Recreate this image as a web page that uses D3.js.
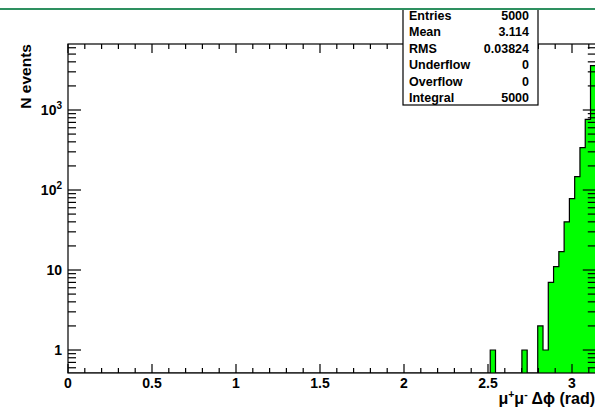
<!DOCTYPE html>
<html>
<head>
<meta charset="utf-8">
<script src="https://cdn.jsdelivr.net/npm/d3@7"></script>
<style>
html,body{margin:0;padding:0;background:#fff;}
svg{display:block;}
text{font-family:"Liberation Sans",Arial,Helvetica,sans-serif;font-weight:bold;fill:#000;}
</style>
</head>
<body>
<svg id="c" width="595" height="410"></svg>
<script>
// ---- data ----
const nBins = 100;
const xMin = 0;
const xMax = Math.PI;
const filledBins = [80, 86, 89, 90, 91, 92, 93, 94, 95, 96, 97, 98, 99];
const binCounts  = [1, 1, 2, 1, 7, 11, 17, 40, 78, 147, 338, 765, 3592];
const xTickLabels = ["0", "0.5", "1", "1.5", "2", "2.5", "3"];
const xTickValues = [0, 0.5, 1, 1.5, 2, 2.5, 3];
const yTickValues = [1, 10, 100, 1000];
const yTickBase = ["1", "10", "10", "10"];
const yTickSup  = ["", "", "2", "3"];
const statLabels = ["Entries", "Mean", "RMS", "Underflow", "Overflow", "Integral"];
const statValues = ["5000", "3.114", "0.03824", "0", "0", "5000"];
const yDomain = [0.516, 6683];

// ---- layout ----
const L = 68, R = 68 + 168 * Math.PI, T = 44, B = 373;
const svg = d3.select("#c");
const x = d3.scaleLinear().domain([xMin, xMax]).range([L, R]);
const y = d3.scaleLog().domain(yDomain).range([B, T]);

const counts = new Array(nBins).fill(0);
filledBins.forEach((b, i) => counts[b] = binCounts[i]);
const w = (xMax - xMin) / nBins;

svg.append("clipPath").attr("id", "clip").append("rect")
  .attr("x", L).attr("y", T).attr("width", R - L).attr("height", B - T);

// histogram
const pts = [[x(xMin), B]];
counts.forEach((c, i) => {
  const yy = c > 0 ? y(c) : B;
  pts.push([x(xMin + i * w), yy]);
  pts.push([x(xMin + (i + 1) * w), yy]);
});
pts.push([x(xMax), B]);
svg.append("path").attr("clip-path", "url(#clip)")
  .attr("d", d3.line()(pts))
  .attr("fill", "#00ff00").attr("stroke", "#000").attr("stroke-width", 1.2);

// frame
const g = svg.append("g").attr("stroke", "#000").attr("stroke-width", 1.2).attr("fill", "none");
g.append("rect").attr("x", L).attr("y", T).attr("width", R - L).attr("height", B - T);

// x ticks (bottom & top)
const xMinor = d3.range(0, 32).map(d => d / 10).filter(v => v <= xMax);
xMinor.forEach(v => {
  const major = Math.abs(v * 2 - Math.round(v * 2)) < 1e-6;
  const len = major ? 9 : 5;
  g.append("line").attr("x1", x(v)).attr("x2", x(v)).attr("y1", B).attr("y2", B - len);
  g.append("line").attr("x1", x(v)).attr("x2", x(v)).attr("y1", T).attr("y2", T + len);
});

// y ticks (left & right)
const yMinor = [];
[0.1, 1, 10, 100, 1000].forEach(dec => {
  for (let k = 1; k <= 9; k++) {
    const v = dec * k;
    if (v >= yDomain[0] && v <= yDomain[1]) yMinor.push({v, major: k === 1});
  }
});
yMinor.forEach(({v, major}) => {
  const len = major ? 13 : 8;
  g.append("line").attr("x1", L).attr("x2", L + len).attr("y1", y(v)).attr("y2", y(v));
  g.append("line").attr("x1", R).attr("x2", R - len).attr("y1", y(v)).attr("y2", y(v));
});

// x labels
xTickValues.forEach((v, i) => {
  svg.append("text").attr("x", x(v)).attr("y", 388).attr("text-anchor", "middle")
    .attr("font-size", 14).text(xTickLabels[i]);
});
// y labels
yTickValues.forEach((v, i) => {
  const t = svg.append("text").attr("x", 62).attr("y", y(v) + 5).attr("text-anchor", "end")
    .attr("font-size", 14);
  t.append("tspan").text(yTickBase[i]);
  if (yTickSup[i]) t.append("tspan").attr("dy", -6).attr("font-size", 10).text(yTickSup[i]);
});

// axis titles
svg.append("text").attr("transform", "translate(31,44) rotate(-90)")
  .attr("text-anchor", "end").attr("font-size", 15.5).text("N events");
const xt = svg.append("text").attr("x", 595).attr("y", 404).attr("text-anchor", "end").attr("font-size", 16);
xt.append("tspan").text("\u03bc");
xt.append("tspan").attr("dy", -6).attr("font-size", 10.5).text("+");
xt.append("tspan").attr("dy", 6).text("\u03bc");
xt.append("tspan").attr("dy", -6).attr("font-size", 10.5).text("-");
xt.append("tspan").attr("dy", 6).text(" \u0394\u03d5 (rad)");

// stat box
svg.append("rect").attr("x", 403).attr("y", 9).attr("width", 135).attr("height", 96)
  .attr("fill", "#fff").attr("stroke", "#000").attr("stroke-width", 1.2);
const baselines = [19.5, 36, 52.5, 69, 85.5, 101.5];
statLabels.forEach((s, i) => {
  svg.append("text").attr("x", 409).attr("y", baselines[i]).attr("font-size", 12.5).text(s);
  svg.append("text").attr("x", 529).attr("y", baselines[i]).attr("text-anchor", "end")
    .attr("font-size", 12.5).text(statValues[i]);
});
// top green line
svg.append("line").attr("x1", 0).attr("x2", 595).attr("y1", 9).attr("y2", 9)
  .attr("stroke", "#2e9060").attr("stroke-width", 2.2);
</script>
</body>
</html>
